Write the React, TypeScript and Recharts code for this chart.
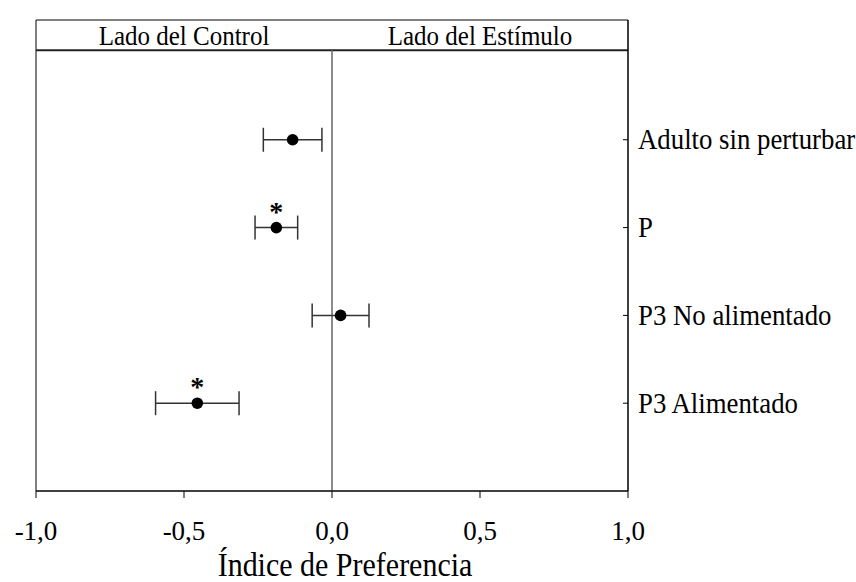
import {
  ScatterChart,
  Scatter,
  XAxis,
  YAxis,
  ErrorBar,
  ReferenceLine,
  ReferenceArea,
} from "recharts";

const CATEGORIES = ["Adulto sin perturbar", "P", "P3 No alimentado", "P3 Alimentado"];
const MEANS = [-0.133, -0.188, 0.029, -0.455];
const ERRORS = [0.099, 0.072, 0.096, 0.141];
const SIGNIFICANT = [false, true, false, true];
const X_TICKS = [-1, -0.5, 0, 0.5, 1];
const SIDE_LABELS = ["Lado del Control", "Lado del Estímulo"];

// rows sit at 1..4, the header band lives above row 0
const Y_TOP = -0.364;
const Y_DIVIDER = -0.02;
const Y_BOTTOM = 5;

const FONT = "Liberation Serif";

const data = CATEGORIES.map((name, i) => ({
  name,
  x: MEANS[i],
  y: i + 1,
  err: ERRORS[i],
  sig: SIGNIFICANT[i],
}));

const fmt = (v: number) => v.toFixed(1).replace(".", ",");

// text a little taller than wide, drawn around its baseline point
const TallText = ({ x, y, sy, children, ...rest }: any) => (
  <text
    transform={`translate(${x}, ${y}) scale(1, ${sy})`}
    x={0}
    y={0}
    fill="#000"
    style={{ fontFamily: FONT }}
    {...rest}
  >
    {children}
  </text>
);

const CategoryTick = ({ x, y, payload }: any) => (
  <g>
    <line x1={x - 5} y1={y} x2={x} y2={y} stroke="#000" />
    <TallText x={x + 10} y={y + 9.5} sy={1.1} fontSize={26.8}>
      {CATEGORIES[payload.value - 1]}
    </TallText>
  </g>
);

const Dot = ({ cx, cy, payload }: any) => (
  <g>
    <circle cx={cx} cy={cy} r={5.8} fill="#000" />
    {payload.sig && (
      <text
        x={cx}
        y={cy - 7}
        textAnchor="middle"
        fontSize={28}
        fontWeight="bold"
        fill="#000"
        style={{ fontFamily: FONT }}
      >
        *
      </text>
    )}
  </g>
);

const HeaderLabel = (text: string) => ({ viewBox }: any) => (
  <TallText
    x={viewBox.x + viewBox.width / 2}
    y={viewBox.y + viewBox.height / 2 + 9.5}
    sy={1.1}
    textAnchor="middle"
    fontSize={25}
  >
    {text}
  </TallText>
);

const AxisTitle = ({ viewBox }: any) => (
  <TallText
    x={viewBox.x + viewBox.width / 2 + 13}
    y={viewBox.y + 85}
    sy={1.15}
    textAnchor="middle"
    fontSize={30}
  >
    Índice de Preferencia
  </TallText>
);

export default function App() {
  return (
    <div style={{ position: "absolute", left: 0, top: 0, fontFamily: FONT, background: "#fff" }}>
      <ScatterChart width={856} height={582} margin={{ top: 20, right: 0, bottom: 0, left: 36 }}>
        <XAxis
          type="number"
          dataKey="x"
          domain={[-1, 1]}
          ticks={X_TICKS}
          allowDataOverflow
          tickFormatter={fmt}
          height={91}
          tickSize={7}
          tickMargin={23}
          stroke="#000"
          tick={{ fontSize: 27, fill: "#000", style: { fontFamily: FONT } }}
          label={<AxisTitle />}
        />
        <YAxis
          type="number"
          dataKey="y"
          orientation="right"
          reversed
          domain={[Y_TOP, Y_BOTTOM]}
          ticks={[1, 2, 3, 4]}
          allowDataOverflow
          width={228}
          tickSize={0}
          tickMargin={0}
          tickLine={false}
          stroke="#000"
          tick={<CategoryTick />}
        />
        {/* plot frame */}
        <ReferenceArea
          x1={-1}
          x2={1}
          y1={Y_TOP}
          y2={Y_BOTTOM}
          fill="none"
          fillOpacity={0}
          stroke="#000"
          strokeWidth={1}
          ifOverflow="visible"
        />
        <ReferenceArea
          x1={-1}
          x2={0}
          y1={Y_TOP}
          y2={Y_DIVIDER}
          fillOpacity={0}
          stroke="none"
          label={HeaderLabel(SIDE_LABELS[0])}
        />
        <ReferenceArea
          x1={0}
          x2={1}
          y1={Y_TOP}
          y2={Y_DIVIDER}
          fillOpacity={0}
          stroke="none"
          label={HeaderLabel(SIDE_LABELS[1])}
        />
        <ReferenceLine y={Y_DIVIDER} stroke="#222" strokeWidth={2} />
        <ReferenceLine
          segment={[
            { x: 0, y: Y_DIVIDER },
            { x: 0, y: Y_BOTTOM },
          ]}
          stroke="#666"
          strokeWidth={1.5}
        />
        <Scatter data={data} shape={<Dot />} isAnimationActive={false}>
          <ErrorBar dataKey="err" direction="x" width={12} stroke="#333" strokeWidth={1.5} />
        </Scatter>
      </ScatterChart>
    </div>
  );
}
